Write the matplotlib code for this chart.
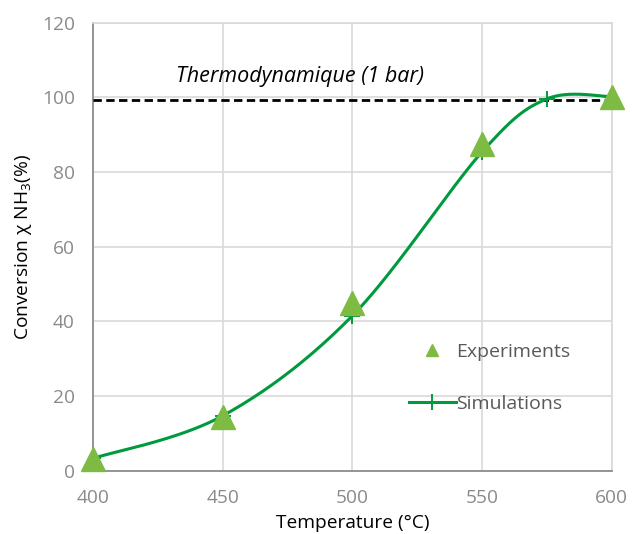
import matplotlib
matplotlib.use("Agg")
import matplotlib.pyplot as plt
from matplotlib.lines import Line2D
import numpy as np

plt.rcParams['font.family'] = ['Open Sans', 'DejaVu Sans']
plt.rcParams['mathtext.fontset'] = 'custom'
plt.rcParams['mathtext.rm'] = 'Open Sans'

# data
exp_temp = [400, 450, 500, 550, 600]
exp_conv = [3.2, 14.5, 45.0, 87.5, 100.0]

sim_temp = [400, 450, 500, 550, 575, 600]
sim_conv = [3.3, 14.7, 41.5, 85.4, 99.6, 100.2]

thermo_temp = [400, 600]
thermo_conv = [99.4, 99.4]

x_ticks = [400, 450, 500, 550, 600]
y_ticks = [0, 20, 40, 60, 80, 100, 120]

GRID = '#d9d9d9'
TICK = '#8a8a8a'
LINE_GREEN = '#009a3e'
TRI_GREEN = '#7dbb42'


# Excel-like smoothed line (Catmull-Rom as cubic Bezier)
def smooth(xs, ys, n=40):
    p = np.column_stack([xs, ys]).astype(float)
    pts = np.vstack([p[0], p, p[-1]])
    out = []
    for i in range(1, len(pts) - 2):
        p0, p1, p2, p3 = pts[i - 1], pts[i], pts[i + 1], pts[i + 2]
        c1 = p1 + (p2 - p0) / 6
        c2 = p2 - (p3 - p1) / 6
        t = np.linspace(0, 1, n)[:, None]
        seg = ((1 - t) ** 3 * p1 + 3 * (1 - t) ** 2 * t * c1
               + 3 * (1 - t) * t ** 2 * c2 + t ** 3 * p2)
        out.append(seg if i == 1 else seg[1:])
    out = np.vstack(out)
    return out[:, 0], out[:, 1]


fig = plt.figure(figsize=(6.32, 5.34), dpi=100)
ax = fig.add_axes([0.147, 0.1185, 0.821, 0.839])

sx, sy = smooth(sim_temp, sim_conv)
ax.plot(thermo_temp, thermo_conv, color='black', lw=2.0,
        linestyle=(0, (3.0, 1.6)), zorder=3)
ax.plot(sx, sy, color=LINE_GREEN, lw=2.2, zorder=4)
ax.plot(sim_temp, sim_conv, ls='none', marker='+', ms=11, mew=1.4,
        color=LINE_GREEN, zorder=4)
ax.plot(exp_temp, exp_conv, ls='none', marker='^', ms=17,
        color=TRI_GREEN, zorder=5, clip_on=False)

ax.text(432, 105.5, 'Thermodynamique (1 bar)', style='italic',
        fontsize=15.5, va='center', ha='left', color='black')

ax.set_xlim(400, 600)
ax.set_ylim(0, 120)
ax.set_xticks(x_ticks)
ax.set_yticks(y_ticks)
ax.grid(True, color=GRID, lw=1.2)
ax.set_axisbelow(True)
ax.tick_params(length=0, labelsize=13.8, colors=TICK)
ax.tick_params(axis='y', pad=13)
ax.tick_params(axis='x', pad=13)

for side in ['top', 'right']:
    ax.spines[side].set_color(GRID)
    ax.spines[side].set_linewidth(1.2)
for side in ['left', 'bottom']:
    ax.spines[side].set_color('#8c8c8c')
    ax.spines[side].set_linewidth(1.3)

ax.set_xlabel('Temperature (°C)', fontsize=13.8, labelpad=5)
ax.set_ylabel(r'Conversion χ NH$_{\mathrm{3}}$(%)', fontsize=13.8, labelpad=6)

handles = [
    Line2D([], [], ls='none', marker='^', ms=9, color=TRI_GREEN),
    Line2D([], [], color=LINE_GREEN, lw=2.2, marker='+', ms=11, mew=1.4),
]
ax.legend(handles, ['Experiments', 'Simulations'], loc='center left',
          bbox_to_anchor=(0.647, 0.292), bbox_transform=fig.transFigure,
          frameon=False, fontsize=14, labelcolor='#595959',
          handlelength=2.4, handletextpad=0.05, labelspacing=1.75,
          borderpad=0, borderaxespad=0)

fig.savefig('out.png', dpi=100)
